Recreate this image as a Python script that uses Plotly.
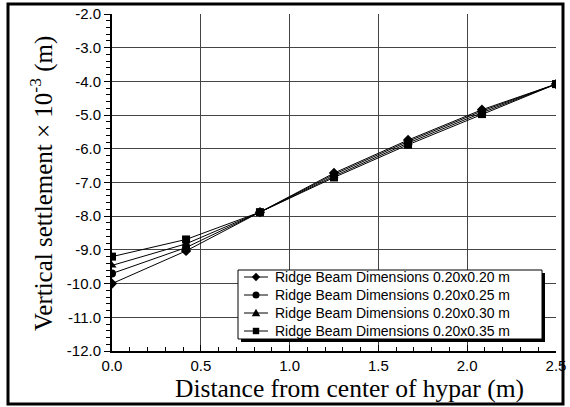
import plotly.graph_objects as go

x_vals = [0.0, 0.417, 0.833, 1.25, 1.667, 2.083, 2.5]
s_020 = [-10.0, -9.03, -7.88, -6.72, -5.74, -4.84, -4.08]
s_025 = [-9.70, -8.93, -7.88, -6.76, -5.78, -4.88, -4.08]
s_030 = [-9.46, -8.82, -7.88, -6.81, -5.83, -4.93, -4.08]
s_035 = [-9.20, -8.69, -7.88, -6.85, -5.88, -4.97, -4.08]
names = ["Ridge Beam Dimensions 0.20x0.20 m", "Ridge Beam Dimensions 0.20x0.25 m",
         "Ridge Beam Dimensions 0.20x0.30 m", "Ridge Beam Dimensions 0.20x0.35 m"]
symbols = ["diamond", "circle", "triangle-up", "square"]
y_ticks = [-2.0, -3.0, -4.0, -5.0, -6.0, -7.0, -8.0, -9.0, -10.0, -11.0, -12.0]
y_ticktext = ["-2.0", "-3.0", "-4.0", "-5.0", "-6.0", "-7.0", "-8.0", "-9.0", "-10.0", "-11.0", "-12.0"]
x_ticks = [0.0, 0.5, 1.0, 1.5, 2.0, 2.5]
x_ticktext = ["0.0", "0.5", "1.0", "1.5", "2.0", "2.5"]
x_title = "Distance from center of hypar (m)"
y_title = "Vertical settlement × 10<sup>-3</sup> (m)"

L, R, T, B = 112, 556, 14, 351
PW, PH = R - L, B - T

def px(xp):
    return (xp - L) / PW

def py(yp):
    return (B - yp) / PH

fig = go.Figure()
for name, ys, sym in zip(names, [s_020, s_025, s_030, s_035], symbols):
    fig.add_trace(go.Scatter(x=x_vals, y=ys, name=name, mode="lines+markers",
                             line=dict(color="black", width=1),
                             marker=dict(symbol=sym, size=8, color="black"),
                             showlegend=False))

fig.update_layout(
    width=570, height=407,
    margin=dict(l=L, r=570 - R, t=T, b=407 - B),
    paper_bgcolor="white", plot_bgcolor="white",
    font=dict(family="Liberation Sans, Arial", color="black"),
    showlegend=False,
)
fig.update_xaxes(range=[0, 2.5], tickvals=x_ticks, ticktext=x_ticktext, automargin=False,
                 showgrid=True, gridcolor="#444", gridwidth=1,
                 showline=True, linecolor="black", linewidth=2, mirror=False,
                 ticks="inside", ticklen=6, tickcolor="black", tickwidth=1,
                 ticklabelstandoff=0,
                 minor=dict(dtick=0.1, ticks="inside", ticklen=4, tickcolor="black", showgrid=False),
                 tickfont=dict(size=15, family="Liberation Sans, Arial"),
                 zeroline=False)
fig.update_yaxes(range=[-12, -2], tickvals=y_ticks, ticktext=y_ticktext, automargin=False,
                 showgrid=True, gridcolor="#444", gridwidth=1,
                 showline=True, linecolor="black", linewidth=2,
                 ticks="outside", ticklen=6, tickcolor="black", tickwidth=1,
                 minor=dict(dtick=0.2, ticks="outside", ticklen=4, tickcolor="black", showgrid=False),
                 tickfont=dict(size=15, family="Liberation Sans, Arial"),
                 zeroline=False)

# axis titles
fig.add_annotation(text=x_title, xref="paper", yref="paper", x=px(349), y=py(389),
                   xanchor="center", yanchor="middle", showarrow=False,
                   font=dict(family="Liberation Serif, Times New Roman", size=25.5, color="black"))
fig.add_annotation(text=y_title, xref="paper", yref="paper", x=px(41), y=py(184),
                   xanchor="center", yanchor="middle", showarrow=False, textangle=-90,
                   font=dict(family="Liberation Serif, Times New Roman", size=25, color="black"))

# outer frame
fig.add_shape(type="rect", xref="paper", yref="paper",
              x0=px(8), x1=px(563), y0=py(404), y1=py(4),
              line=dict(color="black", width=3), layer="below")

# legend: shadow, box, sample glyphs and real-text labels
fig.add_shape(type="rect", xref="paper", yref="paper",
              x0=px(241), x1=px(545), y0=py(342), y1=py(273),
              line=dict(width=0), fillcolor="black", layer="above")
fig.add_shape(type="rect", xref="paper", yref="paper",
              x0=px(238), x1=px(542), y0=py(339), y1=py(270),
              line=dict(color="black", width=1), fillcolor="white", layer="above")

row_y = [277, 295, 313, 331]
mx, ms = 256, 3.5
for name, sym, yy in zip(names, symbols, row_y):
    fig.add_shape(type="line", xref="paper", yref="paper",
                  x0=px(244), x1=px(268), y0=py(yy), y1=py(yy),
                  line=dict(color="black", width=1), layer="above")
    if sym == "circle":
        fig.add_shape(type="circle", xref="paper", yref="paper",
                      x0=px(mx - ms), x1=px(mx + ms), y0=py(yy + ms), y1=py(yy - ms),
                      line=dict(width=0), fillcolor="black", layer="above")
    elif sym == "square":
        fig.add_shape(type="rect", xref="paper", yref="paper",
                      x0=px(mx - 3.2), x1=px(mx + 3.2), y0=py(yy + 3.2), y1=py(yy - 3.2),
                      line=dict(width=0), fillcolor="black", layer="above")
    else:
        if sym == "diamond":
            pts = [(mx, yy - 4.2), (mx + 4.2, yy), (mx, yy + 4.2), (mx - 4.2, yy)]
        else:
            pts = [(mx, yy - 4.2), (mx + 4.2, yy + 3.2), (mx - 4.2, yy + 3.2)]
        path = "M " + " L ".join(f"{px(a):.5f},{py(b):.5f}" for a, b in pts) + " Z"
        fig.add_shape(type="path", xref="paper", yref="paper", path=path,
                      line=dict(width=0), fillcolor="black", layer="above")
    fig.add_annotation(text=name, xref="paper", yref="paper", x=px(273), y=py(yy),
                       xanchor="left", yanchor="middle", showarrow=False,
                       font=dict(family="Liberation Sans, Arial", size=14, color="black"))

fig.write_html("out.html")
